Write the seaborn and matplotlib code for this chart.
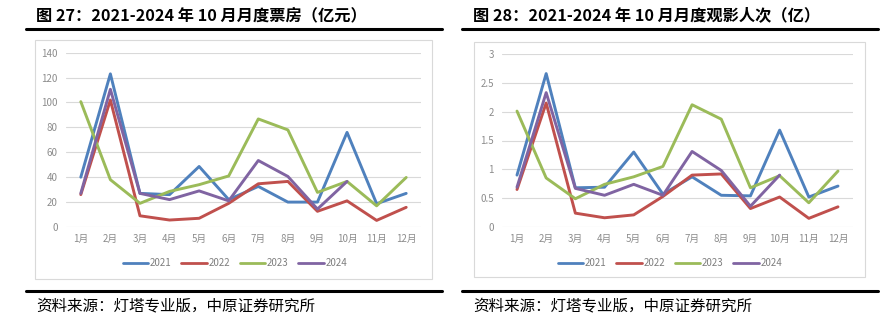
import matplotlib
matplotlib.use("Agg")
import matplotlib.pyplot as plt
import seaborn as sns
import pandas as pd
from matplotlib.lines import Line2D
from matplotlib.patches import Rectangle

months = ["1月", "2月", "3月", "4月", "5月", "6月", "7月", "8月", "9月", "10月", "11月", "12月"]
years = ["2021", "2022", "2023", "2024"]

box_2021 = [40, 123, 27, 26, 48.6, 22, 32.6, 20, 20, 76, 18.7, 27]
box_2022 = [26, 102, 9, 5.6, 7, 19, 34.7, 36.6, 12.6, 21, 5.3, 15.8]
box_2023 = [100.7, 38, 19, 28.6, 34, 41, 86.8, 78, 27.8, 36.6, 17, 39.8]
box_2024 = [27, 110.6, 27, 22, 29, 21, 53.4, 40.6, 14.4, 36.6]

aud_2021 = [0.9, 2.66, 0.68, 0.69, 1.30, 0.57, 0.87, 0.55, 0.54, 1.68, 0.52, 0.71]
aud_2022 = [0.65, 2.15, 0.24, 0.16, 0.21, 0.53, 0.90, 0.92, 0.32, 0.52, 0.15, 0.35]
aud_2023 = [2.01, 0.85, 0.49, 0.74, 0.87, 1.05, 2.12, 1.87, 0.68, 0.89, 0.42, 0.97]
aud_2024 = [0.69, 2.33, 0.67, 0.55, 0.74, 0.55, 1.31, 0.98, 0.36, 0.90]

box_ticks = [0, 20, 40, 60, 80, 100, 120, 140]
aud_ticks = [0, 0.5, 1, 1.5, 2, 2.5, 3]
aud_tick_labels = ["0", "0.5", "1", "1.5", "2", "2.5", "3"]

title_left = "图 27：2021-2024 年 10 月月度票房（亿元）"
title_right = "图 28：2021-2024 年 10 月月度观影人次（亿）"
source_text = "资料来源：灯塔专业版，中原证券研究所"

colors = ["#4F81BD", "#C0504D", "#9BBB59", "#8064A2"]

sns.set_theme(style="white")
plt.rcParams["font.family"] = ["Noto Sans CJK SC", "DejaVu Sans"]


def to_long(series_list):
    rows = []
    for y, vals in zip(years, series_list):
        for i, v in enumerate(vals):
            rows.append({"x": i, "value": v, "year": y})
    return pd.DataFrame(rows)


W, H = 886, 321
fig = plt.figure(figsize=(W / 100, H / 100), dpi=100)
fig.patch.set_facecolor("white")


def px_ax(x0, x1, y0, y1):
    return fig.add_axes([x0 / W, 1 - y1 / H, (x1 - x0) / W, (y1 - y0) / H])


def draw_panel(frame, axrect, data, yticks, ylabels, ymax, title, title_x, rule, legend_c):
    bx0, bx1, by0, by1 = frame
    fig.patches.append(Rectangle((bx0 / W, 1 - by1 / H), (bx1 - bx0) / W, (by1 - by0) / H,
                                 transform=fig.transFigure, fill=False,
                                 edgecolor="#D9D9D9", linewidth=0.8))
    ax = px_ax(*axrect)
    df = to_long(data)
    sns.lineplot(data=df, x="x", y="value", hue="year", palette=colors, ax=ax,
                 linewidth=2.1, legend=False)
    ax.set_xlim(-0.5, 11.5)
    ax.set_ylim(0, ymax)
    ax.set_yticks(yticks)
    ax.set_yticklabels(ylabels)
    ax.set_xticks(range(12))
    ax.set_xticklabels(months)
    ax.set_xlabel("")
    ax.set_ylabel("")
    for s in ax.spines.values():
        s.set_visible(False)
    ax.yaxis.grid(True, color="#D9D9D9", linewidth=0.8)
    ax.set_axisbelow(True)
    ax.tick_params(axis="both", length=0, labelsize=7, colors="#8C8C8C", pad=6)
    ax.tick_params(axis="x", pad=5)
    ax.patch.set_alpha(0)
    fig.text(title_x / W, 1 - 15 / H, title, fontsize=11.7, fontweight="bold",
             ha="left", va="center", color="#000000")
    rx0, rx1 = rule
    fig.add_artist(Line2D([rx0 / W, rx1 / W], [1 - 29 / H, 1 - 29 / H],
                          transform=fig.transFigure, color="black", linewidth=2.2))
    fig.add_artist(Line2D([rx0 / W, rx1 / W], [1 - 291 / H, 1 - 291 / H],
                          transform=fig.transFigure, color="black", linewidth=2.2))
    fig.text(title_x / W, 1 - 306 / H, source_text, fontsize=11.2, ha="left",
             va="center", color="#000000")
    handles = [Line2D([0], [0], color=c, linewidth=2.0) for c in colors]
    fig.legend(handles, years, loc="center", bbox_to_anchor=(legend_c / W, 1 - 263 / H),
               ncol=4, frameon=False, fontsize=7, handlelength=2.6, handletextpad=0.2,
               columnspacing=1.0, labelcolor="#7F7F7F")


draw_panel((35, 432, 40, 279), (66, 421, 52.7, 227),
           [box_2021, box_2022, box_2023, box_2024], box_ticks,
           [str(t) for t in box_ticks], 140, title_left, 36, (26, 442), 235)
draw_panel((474, 865, 42, 277), (502.4, 852.6, 54, 227),
           [aud_2021, aud_2022, aud_2023, aud_2024], aud_ticks,
           aud_tick_labels, 3, title_right, 473, (462, 878), 670)

fig.savefig("out.png", dpi=100, facecolor="white")
